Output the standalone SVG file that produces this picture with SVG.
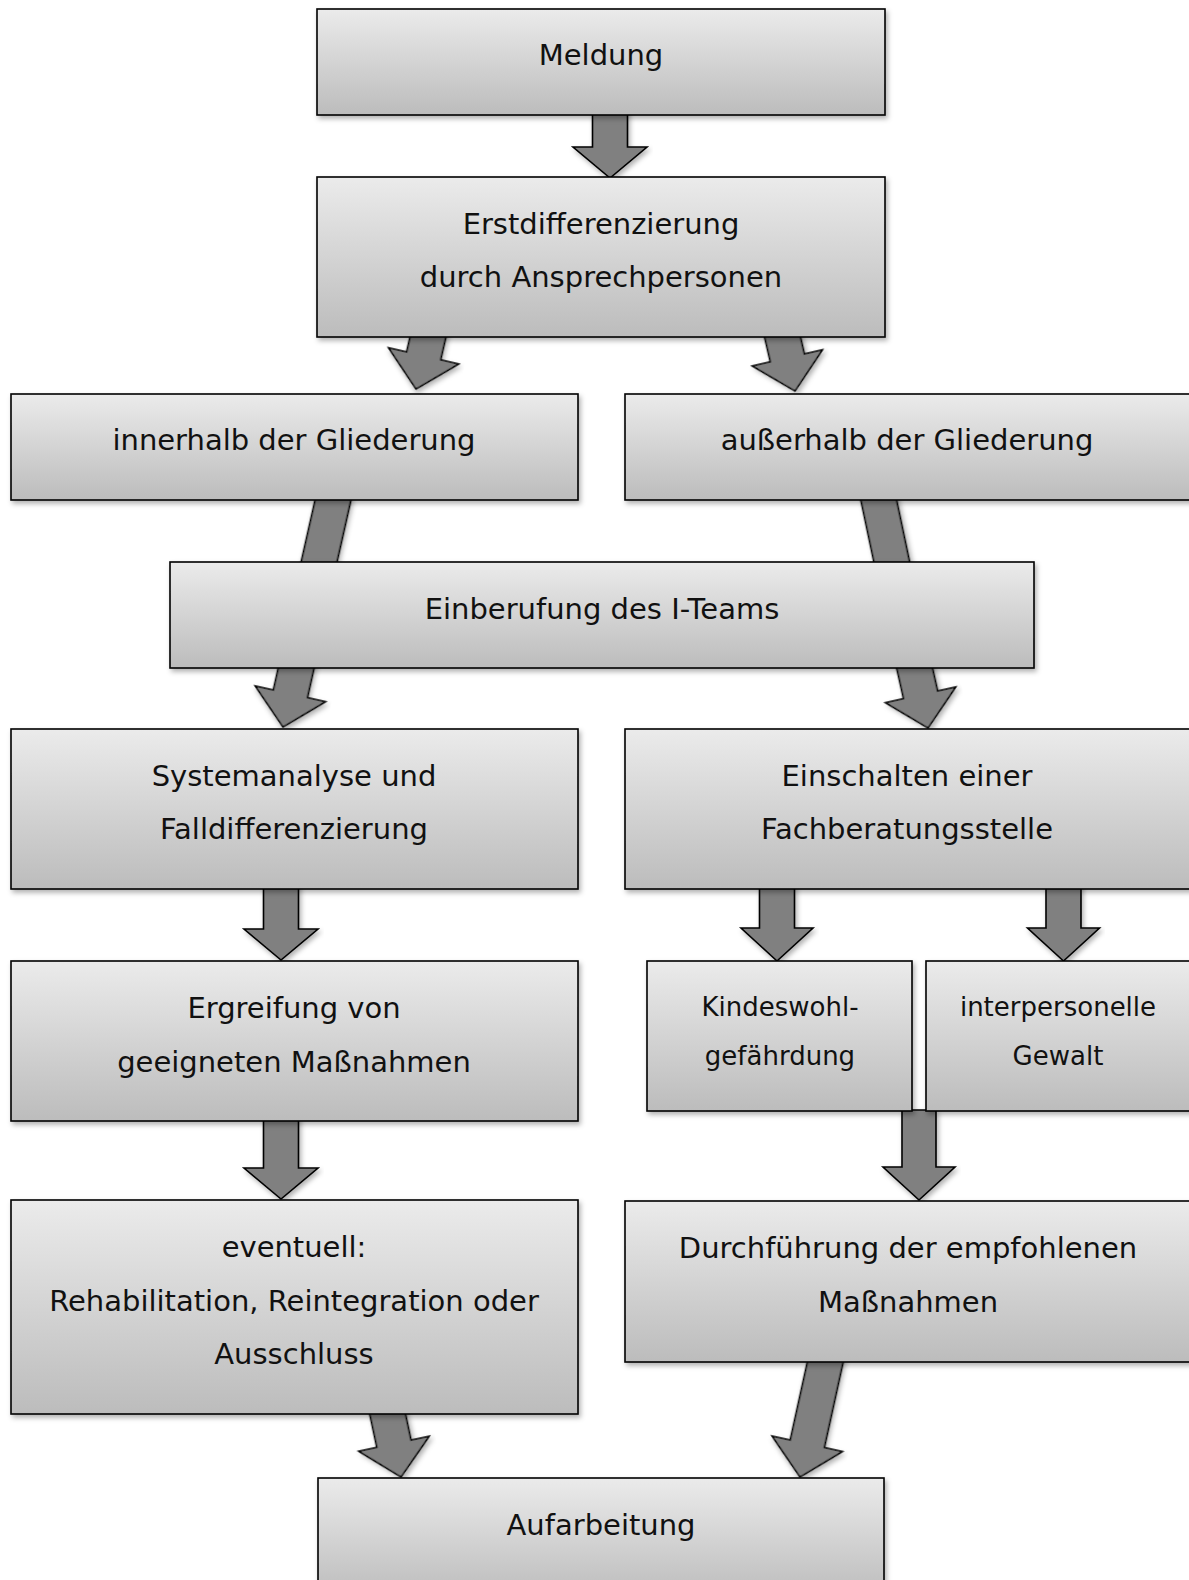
<svg xmlns="http://www.w3.org/2000/svg" width="1189" height="1580" viewBox="0 0 1189 1580">
<defs>
<linearGradient id="g" x1="0" y1="0" x2="0" y2="1">
<stop offset="0" stop-color="#ebebeb"/>
<stop offset="1" stop-color="#bcbcbc"/>
</linearGradient>
<filter id="sh" x="-5%" y="-10%" width="112%" height="130%">
<feDropShadow dx="2" dy="3" stdDeviation="2.5" flood-color="#000" flood-opacity="0.3"/>
</filter>
</defs>
<style>
.box{fill:url(#g);stroke:#000;stroke-width:1.6;filter:url(#sh)}
.arr{fill:#808080;stroke:#000;stroke-width:1.6;stroke-linejoin:miter;filter:url(#sh)}
text{font-family:"DejaVu Sans",Verdana,sans-serif;font-size:29px;fill:#111;text-anchor:middle;dominant-baseline:central}
.sm{font-size:26px}
</style>
<rect width="1189" height="1580" fill="#fff"/>
<g id="connectors">
<path class="arr" transform="translate(610,178)" d="M-17.5,-71H17.5V-31H37L0,0L-37,-31H-17.5Z"/>
<path class="arr" transform="translate(416,389) rotate(13)" d="M-17.5,-66H17.5V-34H36L0,0L-36,-34H-17.5Z"/>
<path class="arr" transform="translate(795,391) rotate(-13)" d="M-17.5,-68H17.5V-34H36L0,0L-36,-34H-17.5Z"/>
<path class="arr" transform="translate(306,620) rotate(12.7)" d="M-17.5,-130H17.5V-34H36L0,0L-36,-34H-17.5Z"/>
<path class="arr" transform="translate(904,620) rotate(-11.9)" d="M-17.5,-130H17.5V-34H36L0,0L-36,-34H-17.5Z"/>
<path class="arr" transform="translate(283,727) rotate(12.6)" d="M-17.5,-73H17.5V-34H36L0,0L-36,-34H-17.5Z"/>
<path class="arr" transform="translate(928,728) rotate(-12.6)" d="M-17.5,-73H17.5V-34H36L0,0L-36,-34H-17.5Z"/>
<path class="arr" transform="translate(281,960)" d="M-17.5,-79H17.5V-31H37L0,0L-37,-31H-17.5Z"/>
<path class="arr" transform="translate(281,1199)" d="M-17.5,-86H17.5V-31H37L0,0L-37,-31H-17.5Z"/>
<path class="arr" transform="translate(777,961)" d="M-17.5,-80H17.5V-33H36L0,0L-36,-33H-17.5Z"/>
<path class="arr" transform="translate(1063.5,961)" d="M-17.5,-80H17.5V-33H36L0,0L-36,-33H-17.5Z"/>
<path class="arr" transform="translate(919,1200)" d="M-17,-90H17V-33H36L0,0L-36,-33H-17Z"/>
<path class="arr" transform="translate(401,1477) rotate(-12)" d="M-17.5,-77H17.5V-34H36L0,0L-36,-34H-17.5Z"/>
<path class="arr" transform="translate(800,1477) rotate(12.4)" d="M-17.5,-127H17.5V-34H36L0,0L-36,-34H-17.5Z"/>
</g>
<g id="n-meldung"><rect class="box" x="317" y="9" width="568" height="106"/><text x="601" y="55">Meldung</text></g>
<g id="n-erst"><rect class="box" x="317" y="177" width="568" height="160"/><text x="601" y="224">Erstdifferenzierung</text><text x="601" y="277">durch Ansprechpersonen</text></g>
<g id="n-innerhalb"><rect class="box" x="11" y="394" width="567" height="106"/><text x="294" y="440">innerhalb der Gliederung</text></g>
<g id="n-ausserhalb"><rect class="box" x="625" y="394" width="570" height="106"/><text x="907" y="440">außerhalb der Gliederung</text></g>
<g id="n-einberufung"><rect class="box" x="170" y="562" width="864" height="106"/><text x="602" y="609">Einberufung des I-Teams</text></g>
<g id="n-system"><rect class="box" x="11" y="729" width="567" height="160"/><text x="294" y="776">Systemanalyse und</text><text x="294" y="829">Falldifferenzierung</text></g>
<g id="n-einschalten"><rect class="box" x="625" y="729" width="570" height="160"/><text x="907" y="776">Einschalten einer</text><text x="907" y="829">Fachberatungsstelle</text></g>
<g id="n-ergreifung"><rect class="box" x="11" y="961" width="567" height="160"/><text x="294" y="1008">Ergreifung von</text><text x="294" y="1062">geeigneten Maßnahmen</text></g>
<g id="n-kindeswohl"><rect class="box" x="647" y="961" width="265" height="150"/><text class="sm" x="780" y="1007">Kindeswohl-</text><text class="sm" x="780" y="1056">gefährdung</text></g>
<g id="n-interpersonell"><rect class="box" x="926" y="961" width="270" height="150"/><text class="sm" x="1058" y="1007">interpersonelle</text><text class="sm" x="1058" y="1056">Gewalt</text></g>
<g id="n-eventuell"><rect class="box" x="11" y="1200" width="567" height="214"/><text x="294" y="1247">eventuell:</text><text x="294" y="1301">Rehabilitation, Reintegration oder</text><text x="294" y="1354">Ausschluss</text></g>
<g id="n-durchfuehrung"><rect class="box" x="625" y="1201" width="570" height="161"/><text x="908" y="1248">Durchführung der empfohlenen</text><text x="908" y="1302">Maßnahmen</text></g>
<g id="n-aufarbeitung"><rect class="box" x="318" y="1478" width="566" height="120"/><text x="601" y="1525">Aufarbeitung</text></g>
</svg>
